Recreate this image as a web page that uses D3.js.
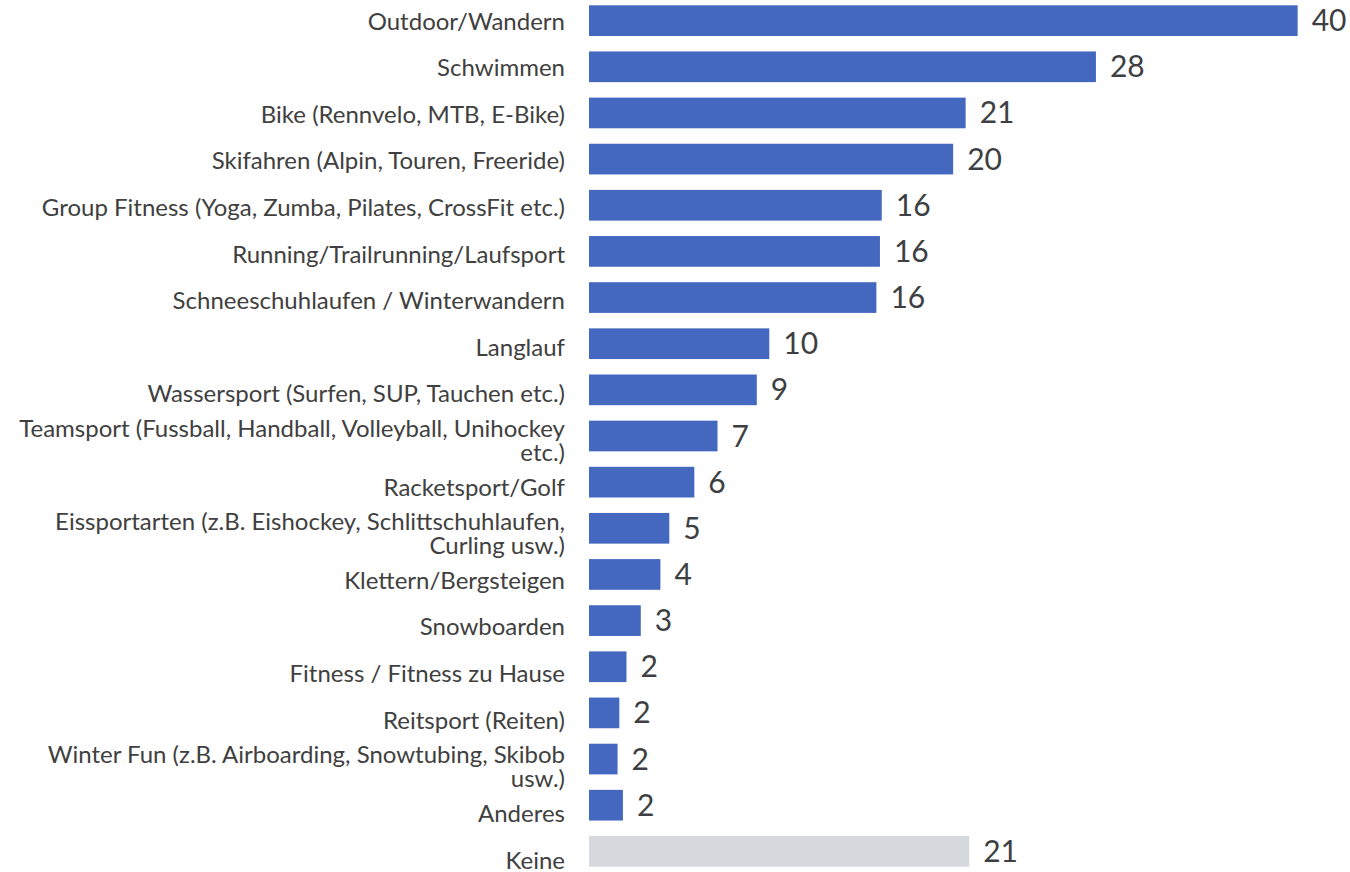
<!DOCTYPE html>
<html>
<head>
<meta charset="utf-8">
<script src="https://cdn.jsdelivr.net/npm/d3@7"></script>
<style>
  body { margin: 0; background: #fff; }
  svg { display: block; font-family: Lato, "Open Sans", sans-serif; }
</style>
</head>
<body>
<svg></svg>
<script>
const width = 1350;
const height = 872;

// categories top to bottom
const categories = [
  "Outdoor/Wandern",
  "Schwimmen",
  "Bike (Rennvelo, MTB, E-Bike)",
  "Skifahren (Alpin, Touren, Freeride)",
  "Group Fitness (Yoga, Zumba, Pilates, CrossFit etc.)",
  "Running/Trailrunning/Laufsport",
  "Schneeschuhlaufen / Winterwandern",
  "Langlauf",
  "Wassersport (Surfen, SUP, Tauchen etc.)",
  "Teamsport (Fussball, Handball, Volleyball, Unihockey etc.)",
  "Racketsport/Golf",
  "Eissportarten (z.B. Eishockey, Schlittschuhlaufen, Curling usw.)",
  "Klettern/Bergsteigen",
  "Snowboarden",
  "Fitness / Fitness zu Hause",
  "Reitsport (Reiten)",
  "Winter Fun (z.B. Airboarding, Snowtubing, Skibob usw.)",
  "Anderes",
  "Keine",
];

// share in %
const values = [39.7, 28.4, 21.1, 20.4, 16.4, 16.3, 16.1, 10.1, 9.4, 7.2, 5.9, 4.5, 4.0, 2.9, 2.1, 1.7, 1.6, 1.9, 21.3];

const greyCategories = ["Keine"];

const data = categories.map((c, i) => ({ name: c, value: values[i] }));

const svg = d3.select("svg").attr("width", width).attr("height", height);

const x = d3.scaleLinear().domain([0, 40]).range([589, 1303]);

const y = d3
  .scaleBand()
  .domain(categories)
  .range([5.3, 866.7])
  .paddingInner(0.335)
  .paddingOuter(0);

// labels sit on a slightly wider spacing than the bars
const yLabel = d3.scalePoint().domain(categories).range([21, 860]);

svg
  .selectAll("rect.bar")
  .data(data)
  .enter()
  .append("rect")
  .attr("class", "bar")
  .attr("x", x(0))
  .attr("y", (d) => y(d.name))
  .attr("width", (d) => x(d.value) - x(0))
  .attr("height", y.bandwidth())
  .attr("fill", (d) => (greyCategories.includes(d.name) ? "#d5d8dc" : "#4468c0"));

svg
  .selectAll("text.value")
  .data(data)
  .enter()
  .append("text")
  .attr("class", "value")
  .attr("x", (d) => x(d.value) + 14)
  .attr("y", (d) => y(d.name) + y.bandwidth() / 2 + 10.5)
  .attr("font-size", 30)
  .attr("fill", "#3d3f42")
  .text((d) => Math.round(d.value));

// category labels, wrapped when too long
const maxLabelWidth = 560;
const lineHeight = 24;

const labels = svg
  .selectAll("text.cat")
  .data(data)
  .enter()
  .append("text")
  .attr("class", "cat")
  .attr("text-anchor", "end")
  .attr("font-size", 24)
  .attr("fill", "#404040");

labels.each(function (d) {
  const t = d3.select(this);
  const words = d.name.split(" ");
  const lines = [];
  let line = [];
  const probe = t.append("tspan");
  words.forEach((w) => {
    line.push(w);
    probe.text(line.join(" "));
    if (probe.node().getComputedTextLength() > maxLabelWidth && line.length > 1) {
      line.pop();
      lines.push(line.join(" "));
      line = [w];
    }
  });
  lines.push(line.join(" "));
  probe.remove();

  const cy = yLabel(d.name);
  const first = cy - ((lines.length - 1) * lineHeight) / 2;
  lines.forEach((l, i) => {
    t.append("tspan")
      .attr("x", 565)
      .attr("y", first + i * lineHeight + 8.5)
      .text(l);
  });
});
</script>
</body>
</html>
